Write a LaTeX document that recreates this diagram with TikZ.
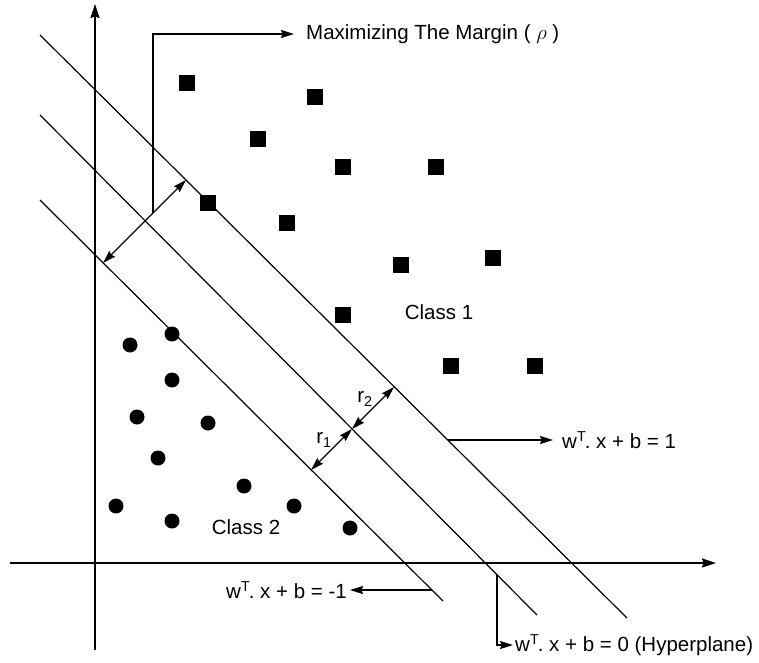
\documentclass[tikz,border=0pt]{standalone}
\usepackage{fontspec}
\setmainfont{Liberation Sans}
\usetikzlibrary{arrows.meta}
\frenchspacing
\newcommand{\wT}{w\textsuperscript{T}\kern-1.5pt}
\begin{document}
\begin{tikzpicture}[x=1pt,y=-1pt,
  axis/.style={line width=1.5pt,-{Stealth[length=14pt,width=9pt,inset=1.5pt]}},
  sepline/.style={line width=1.2pt},
  pointer/.style={line width=1.2pt,-{Stealth[length=13pt,width=8pt,inset=1.5pt]}},
  dbl/.style={line width=1.2pt,{Stealth[length=13pt,width=8pt,inset=1.5pt]}-{Stealth[length=13pt,width=8pt,inset=1.5pt]}},
  lbl/.style={font=\fontsize{20.5}{24}\selectfont,inner sep=0pt},
  sq/.style={fill=black,minimum size=16pt,inner sep=0pt,draw=none},
  dot/.style={fill=black,circle,minimum size=15pt,inner sep=0pt,draw=none}]
\useasboundingbox (0,0) rectangle (759,662);
% axes
\coordinate (xs) at (10,563);
\coordinate (xe) at (716,563);
\coordinate (ys) at (95,650);
\coordinate (ye) at (95,4);
\draw[axis] (xs) -- (xe);
\draw[axis] (ys) -- (ye);
% separating lines
\coordinate (a1) at (40,200); \coordinate (a2) at (443,601);
\coordinate (b1) at (40,115); \coordinate (b2) at (537,615);
\coordinate (c1) at (40,35);  \coordinate (c2) at (627,618);
\draw[sepline] (a1) -- (a2);
\draw[sepline] (b1) -- (b2);
\draw[sepline] (c1) -- (c2);
% margin arrow
\coordinate (mA) at (103,263);
\coordinate (mC) at (186,180);
\draw[dbl] (mA) -- (mC);
\coordinate (mk) at (153,213);
\coordinate (mtop) at (153,34);
\node[lbl,anchor=west] (tmargin) at (306,34) {Maximizing The Margin ( $\rho$ )};
\draw[pointer] (mk) -- (mtop) -- ([xshift=-12pt]tmargin.west);
% r1, r2
\coordinate (rB) at (352,429);
\coordinate (rA) at (311,470);
\coordinate (rC) at (394,387);
\draw[dbl] (rA) -- (rB);
\draw[dbl] (rB) -- (rC);
\node[lbl] (r1) at (324,440) {r\textsubscript{1}};
\node[lbl] (r2) at (365,399) {r\textsubscript{2}};
% +1 label
\coordinate (pC) at (448,440);
\node[lbl,anchor=west] (tplus) at (562,440) {\wT. x + b = 1};
\draw[pointer] (pC) -- ([xshift=-9pt]tplus.west);
% -1 label
\coordinate (pA) at (432,590);
\node[lbl,anchor=east] (tminus) at (347,590) {\wT. x + b = -1};
\draw[pointer] (pA) -- ([xshift=3pt]tminus.east);
% hyperplane label
\coordinate (pB) at (497,575);
\coordinate (pBd) at (497,645);
\node[lbl,anchor=west] (thyp) at (515,645) {\wT. x + b = 0 (Hyperplane)};
\draw[pointer] (pB) -- (pBd) -- ([xshift=-2pt]thyp.west);
% class labels
\node[lbl] (cl1) at (439,312) {Class 1};
\node[lbl] (cl2) at (246,527) {Class 2};
% squares
\foreach \p [count=\i] in {(187,83),(315,97),(258,139),(343,167),(436,167),(208,203),(287,223),(401,265),(493,258),(343,315),(451,366),(535,366)}
  \node[sq] (s\i) at \p {};
% circles
\foreach \p [count=\i] in {(172,334),(130,345),(172,380),(137,417),(208,423),(158,458),(244,486),(116,506),(172,521),(294,506),(350,528)}
  \node[dot] (d\i) at \p {};
\end{tikzpicture}
\end{document}
